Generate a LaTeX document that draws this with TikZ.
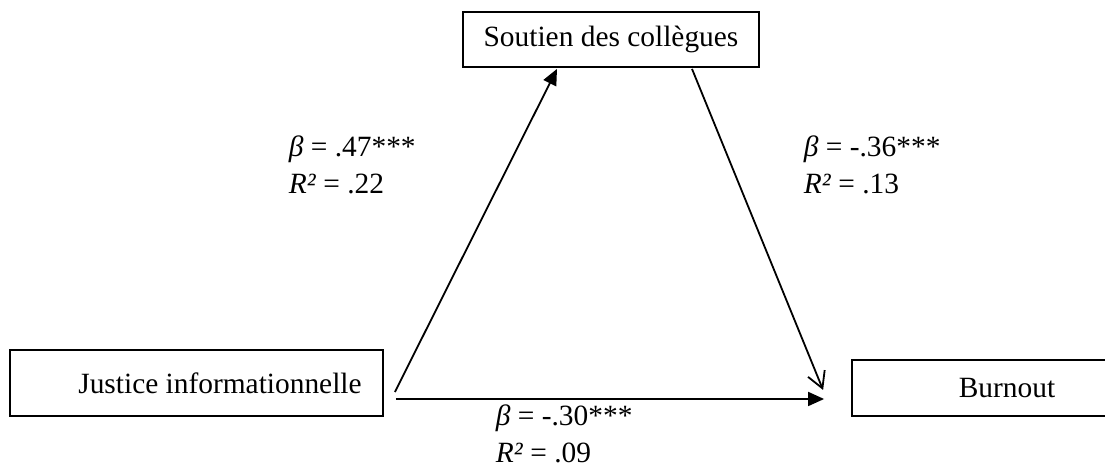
\documentclass[tikz,border=0pt]{standalone}
\usepackage{fontspec}
\setmainfont{Liberation Serif}
\usetikzlibrary{arrows.meta}

\begin{document}
\begin{tikzpicture}[x=0.5pt, y=-0.5pt, line width=0.9pt,
    varbox/.style={draw, inner sep=0pt, font=\fontsize{14.7}{18.5}\selectfont},
    coef/.style={anchor=north west, inner sep=0pt, align=left, font=\fontsize{14.7}{18.5}\selectfont},
    arrFull/.style={-{Triangle[length=8pt,width=7pt]}},
    arrOpen/.style={-{Straight Barb[length=8pt,width=9pt]}}]
    \useasboundingbox (0,0) rectangle (1105,464);
    \node[varbox, minimum width=148pt, minimum height=27.5pt] (sou) at (611,39.5) {Soutien des collègues};
    \node[varbox, minimum width=186.5pt, minimum height=33pt] (jus) at (196.5,383) {\hspace*{23.5pt}Justice informationnelle};
    \node[varbox, minimum width=155pt, minimum height=28pt] (bur) at (1007,388) {Burnout};
    \coordinate (jusUp) at ([shift={(11,9)}]jus.east);
    \coordinate (jusRight) at ([shift={(12,16)}]jus.east);
    \coordinate (souIn) at ([shift={(-54,1)}]sou.south);
    \coordinate (souOut) at ([shift={(81,1)}]sou.south);
    \coordinate (burLeft) at ([shift={(-27,11)}]bur.west);
    \coordinate (burTop) at ([shift={(-28,2)}]bur.west);
    \draw[arrFull] (jusUp) -- (souIn);
    \draw[arrOpen] (souOut) -- (burTop);
    \draw[arrFull] (jusRight) -- (burLeft);
    \node[coef] (coefJS) at (288,135) {\textit{β} = .47***\\\textit{R²} = .22};
    \node[coef] (coefSB) at (803,135) {\textit{β} = -.36***\\\textit{R²} = .13};
    \node[coef] (coefJB) at (495,404) {\textit{β} = -.30***\\\textit{R²} = .09};
\end{tikzpicture}
\end{document}
